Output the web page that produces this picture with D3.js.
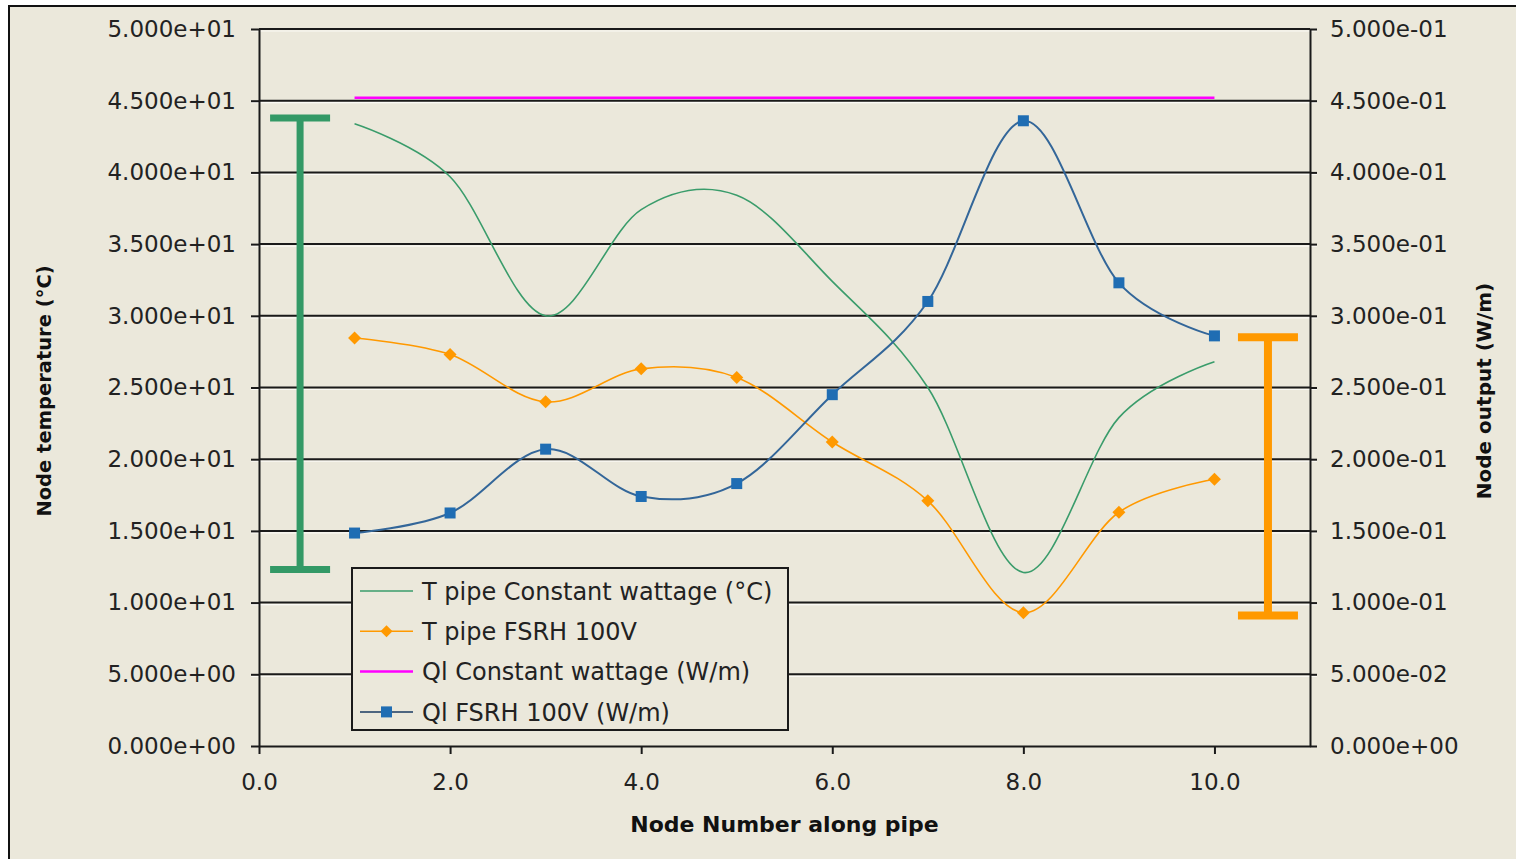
<!DOCTYPE html>
<html>
<head>
<meta charset="utf-8">
<script src="https://cdn.jsdelivr.net/npm/d3@7"></script>
<style>
  html, body { margin: 0; padding: 0; background: #ffffff; }
  svg { display: block; }
</style>
</head>
<body>
<svg id="chart" width="1516" height="859"></svg>
<script>
// ---------------- data ----------------
const nodes = [1, 2, 3, 4, 5, 6, 7, 8, 9, 10];
const tPipeConstant = [43.4, 39.7, 30.0, 37.4, 38.4, 32.4, 25.0, 12.1, 22.9, 26.8];      // °C, left axis
const tPipeFSRH = [28.45, 27.3, 24.0, 26.3, 25.7, 21.2, 17.1, 9.3, 16.3, 18.6];         // °C, left axis
const qlConstant = [0.452, 0.452, 0.452, 0.452, 0.452, 0.452, 0.452, 0.452, 0.452, 0.452]; // W/m, right axis
const qlFSRH = [0.1485, 0.1625, 0.207, 0.174, 0.183, 0.245, 0.310, 0.436, 0.323, 0.286]; // W/m, right axis

// range bars (temperature spread markers)
const rangeBarX = [0.43, 10.56];
const rangeBarLow = [12.3, 9.1];
const rangeBarHigh = [43.8, 28.5];
const rangeBarColor = ["#339966", "#ff9900"];

const xTicks = [0, 2, 4, 6, 8, 10];
const leftTicks = [0, 5, 10, 15, 20, 25, 30, 35, 40, 45, 50];
const rightTicks = [0, 0.05, 0.1, 0.15, 0.2, 0.25, 0.3, 0.35, 0.4, 0.45, 0.5];

const legendLabels = ["T pipe Constant wattage (°C)", "T pipe FSRH 100V", "Ql Constant wattage (W/m)", "Ql FSRH 100V (W/m)"];
const xTitle = "Node Number along pipe";
const yLeftTitle = "Node temperature (°C)";
const yRightTitle = "Node output (W/m)";

// ---------------- layout ----------------
const BG = "#ebe8db";
const FONT = "'DejaVu Sans', Verdana, sans-serif";
const plot = { left: 259, right: 1310, top: 29, bottom: 746 };

const svg = d3.select("#chart");

// outer frame
svg.append("rect")
  .attr("x", 9).attr("y", 6).attr("width", 1530).attr("height", 880)
  .attr("fill", BG).attr("stroke", "#111").attr("stroke-width", 2);

const x = d3.scaleLinear().domain([0, 11]).range([plot.left, plot.right]);
const yL = d3.scaleLinear().domain([0, 50]).range([plot.bottom, plot.top]);
const yR = d3.scaleLinear().domain([0, 0.5]).range([plot.bottom, plot.top]);

const sci = v => d3.format(".3e")(v).replace(/e([+-])(\d)$/, "e$10$2");

// gridlines (with light highlight beneath)
const grid = svg.append("g");
grid.selectAll("line.hl").data(leftTicks.filter(d => d > 0)).join("line")
  .attr("class", "hl")
  .attr("x1", plot.left - 8).attr("x2", plot.right + 7)
  .attr("y1", d => yL(d) + 2).attr("y2", d => yL(d) + 2)
  .attr("stroke", "#fbfaf5").attr("stroke-width", 1.2);
grid.selectAll("line.g").data(leftTicks.filter(d => d > 0)).join("line")
  .attr("class", "g")
  .attr("x1", plot.left).attr("x2", plot.right)
  .attr("y1", d => yL(d)).attr("y2", d => yL(d))
  .attr("stroke", "#1a1a1a").attr("stroke-width", 2);

// axes
const axisStyle = g => {
  g.select(".domain").attr("stroke", "#1a1a1a").attr("stroke-width", 2);
  g.selectAll(".tick line").attr("stroke", "#1a1a1a").attr("stroke-width", 2);
  g.selectAll(".tick text").attr("fill", "#222").style("font-family", FONT).style("font-size", "23px");
};

svg.append("g")
  .attr("transform", `translate(${plot.left},0)`)
  .call(d3.axisLeft(yL).tickValues(leftTicks).tickFormat(sci).tickSize(8).tickSizeOuter(0).tickPadding(15))
  .call(axisStyle);

svg.append("g")
  .attr("transform", `translate(${plot.right},0)`)
  .call(d3.axisRight(yR).tickValues(rightTicks).tickFormat(sci).tickSize(7).tickSizeOuter(0).tickPadding(13))
  .call(axisStyle);

svg.append("g")
  .attr("transform", `translate(0,${plot.bottom})`)
  .call(d3.axisBottom(x).tickValues(xTicks).tickFormat(d3.format(".1f")).tickSize(8).tickSizeOuter(0).tickPadding(20))
  .call(axisStyle);

// range bars
const rb = svg.append("g");
rangeBarX.forEach((xv, i) => {
  const g = rb.append("g").attr("stroke", rangeBarColor[i]).attr("stroke-width", i === 0 ? 7 : 8);
  g.append("line").attr("x1", x(xv)).attr("x2", x(xv)).attr("y1", yL(rangeBarHigh[i])).attr("y2", yL(rangeBarLow[i]));
  g.append("line").attr("x1", x(xv) - 30).attr("x2", x(xv) + 30).attr("y1", yL(rangeBarHigh[i])).attr("y2", yL(rangeBarHigh[i]));
  g.append("line").attr("x1", x(xv) - 30).attr("x2", x(xv) + 30).attr("y1", yL(rangeBarLow[i])).attr("y2", yL(rangeBarLow[i]));
});

// series
const curve = d3.curveCardinal.tension(0);
const lineL = d3.line().x((d, i) => x(nodes[i])).y(d => yL(d)).curve(curve);
const lineR = d3.line().x((d, i) => x(nodes[i])).y(d => yR(d)).curve(curve);

const series = svg.append("g").attr("fill", "none");
series.append("path").datum(qlConstant).attr("d", lineR).attr("stroke", "#ff00ff").attr("stroke-width", 2.5);
series.append("path").datum(tPipeConstant).attr("d", lineL).attr("stroke", "#3a9c6b").attr("stroke-width", 1.6);
series.append("path").datum(tPipeFSRH).attr("d", lineL).attr("stroke", "#ff9900").attr("stroke-width", 1.6);
series.append("path").datum(qlFSRH).attr("d", lineR).attr("stroke", "#336699").attr("stroke-width", 2);

const diamond = s => `M0,${-s}L${s},0L0,${s}L${-s},0Z`;
svg.append("g").selectAll("path").data(tPipeFSRH).join("path")
  .attr("transform", (d, i) => `translate(${x(nodes[i])},${yL(d)})`)
  .attr("d", diamond(6.5)).attr("fill", "#ff9900");
svg.append("g").selectAll("rect").data(qlFSRH).join("rect")
  .attr("x", (d, i) => x(nodes[i]) - 5.5).attr("y", d => yR(d) - 5.5)
  .attr("width", 11).attr("height", 11).attr("fill", "#1f6db3");

// legend
const lg = svg.append("g").attr("transform", "translate(352,568)");
lg.append("rect").attr("width", 436).attr("height", 162).attr("fill", BG).attr("stroke", "#1a1a1a").attr("stroke-width", 2);
const legendStyles = [
  { color: "#3a9c6b", w: 1.6, marker: null },
  { color: "#ff9900", w: 1.6, marker: "diamond", mcolor: "#ff9900" },
  { color: "#ff00ff", w: 2.5, marker: null },
  { color: "#4d6580", w: 2, marker: "square", mcolor: "#1f6db3" }
];
legendLabels.forEach((lab, i) => {
  const cy = 23 + i * 40.3;
  const st = legendStyles[i];
  lg.append("line").attr("x1", 8).attr("x2", 61).attr("y1", cy).attr("y2", cy)
    .attr("stroke", st.color).attr("stroke-width", st.w);
  if (st.marker === "diamond") {
    lg.append("path").attr("transform", `translate(34.5,${cy})`).attr("d", diamond(6)).attr("fill", st.mcolor);
  } else if (st.marker === "square") {
    lg.append("rect").attr("x", 29).attr("y", cy - 5.5).attr("width", 11).attr("height", 11).attr("fill", st.mcolor);
  }
  lg.append("text").attr("x", 70).attr("y", cy).attr("dy", "0.36em")
    .attr("fill", "#222").style("font-family", FONT).style("font-size", "24px").text(lab);
});

// titles
svg.append("text").attr("x", (plot.left + plot.right) / 2).attr("y", 832)
  .attr("text-anchor", "middle").attr("fill", "#111")
  .style("font-family", FONT).style("font-size", "22px").style("font-weight", "bold").text(xTitle);
svg.append("text").attr("transform", "translate(44,391) rotate(-90)").attr("dy", "0.36em")
  .attr("text-anchor", "middle").attr("fill", "#111")
  .style("font-family", FONT).style("font-size", "19.5px").style("font-weight", "bold").text(yLeftTitle);
svg.append("text").attr("transform", "translate(1484,391) rotate(-90)").attr("dy", "0.36em")
  .attr("text-anchor", "middle").attr("fill", "#111")
  .style("font-family", FONT).style("font-size", "20px").style("font-weight", "bold").text(yRightTitle);
</script>
</body>
</html>
